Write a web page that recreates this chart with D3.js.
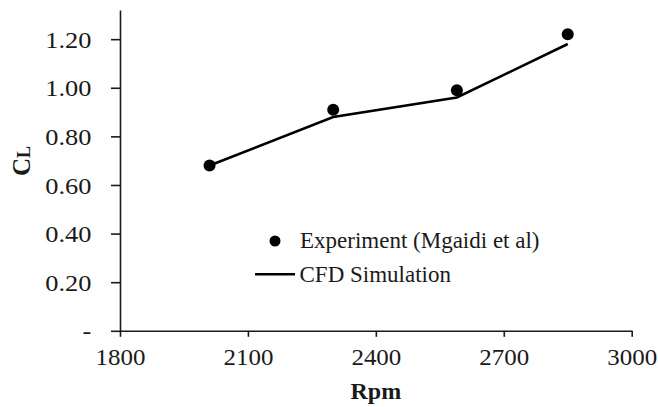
<!DOCTYPE html>
<html>
<head>
<meta charset="utf-8">
<script src="https://cdn.jsdelivr.net/npm/d3@7"></script>
<style>
  html, body { margin: 0; padding: 0; background: #fff; }
  svg { display: block; font-family: "Liberation Serif", "Times New Roman", serif; }
</style>
</head>
<body>
<svg id="chart" width="658" height="407"></svg>
<script>
const rpm = [2010, 2300, 2590, 2850];
const experiment = [0.68, 0.91, 0.99, 1.22];
const cfd = [0.68, 0.88, 0.96, 1.18];
const xTicks = [1800, 2100, 2400, 2700, 3000];
const yTicks = [0, 0.2, 0.4, 0.6, 0.8, 1.0, 1.2];
const legendLabels = ['Experiment (Mgaidi et al)', 'CFD Simulation'];

const svg = d3.select('#chart');
const ink = '#1a1a1a';

const x = d3.scaleLinear().domain([1800, 3000]).range([120, 631.7]);
const y = d3.scaleLinear().domain([0, 1.32]).range([330.8, 10]);

// axes
const xAxis = svg
  .append('g')
  .attr('transform', `translate(0, ${y(0)})`)
  .call(d3.axisBottom(x).tickValues(xTicks).tickSize(6).tickSizeOuter(0).tickPadding(11).tickFormat(d3.format('d')));
const yAxis = svg
  .append('g')
  .attr('transform', `translate(${x(1800)}, 0)`)
  .call(
    d3
      .axisLeft(y)
      .tickValues(yTicks)
      .tickSize(9)
      .tickSizeOuter(0)
      .tickPadding(17)
      .tickFormat((v) => (v === 0 ? '-' : d3.format('.2f')(v)))
  );

[xAxis, yAxis].forEach((g) => {
  g.selectAll('path, line').attr('stroke', ink).attr('stroke-width', 1.6);
  g.selectAll('text').attr('fill', ink).attr('font-size', 24).attr('font-family', '"Liberation Serif", serif');
});
xAxis.selectAll('text').attr('transform', 'scale(1.04,1)');
yAxis.selectAll('text').attr('dy', '0.34em').attr('transform', 'scale(1.1,1)');

// axis titles
svg
  .append('text')
  .attr('x', (x(1800) + x(3000)) / 2)
  .attr('y', 399)
  .attr('text-anchor', 'middle')
  .attr('font-size', 24)
  .attr('font-weight', 'bold')
  .attr('fill', ink)
  .text('Rpm');

const yTitle = svg
  .append('text')
  .attr('transform', 'translate(30, 161) rotate(-90)')
  .attr('text-anchor', 'middle')
  .attr('font-weight', 'bold')
  .attr('fill', ink);
yTitle.append('tspan').attr('font-size', 25).text('C');
yTitle.append('tspan').attr('font-size', 18).text('L');

// CFD line
const line = d3
  .line()
  .x((d) => x(d[0]))
  .y((d) => y(d[1]));
svg
  .append('path')
  .datum(d3.zip(rpm, cfd))
  .attr('d', line)
  .attr('fill', 'none')
  .attr('stroke', '#000')
  .attr('stroke-width', 2.6);

// experiment points
svg
  .append('g')
  .selectAll('circle')
  .data(d3.zip(rpm, experiment))
  .join('circle')
  .attr('cx', (d) => x(d[0]))
  .attr('cy', (d) => y(d[1]))
  .attr('r', 6)
  .attr('fill', '#000');

// legend
const legend = svg.append('g');
legend.append('circle').attr('cx', 275).attr('cy', 241).attr('r', 5.5).attr('fill', '#000');
legend
  .append('line')
  .attr('x1', 255)
  .attr('x2', 295)
  .attr('y1', 274.3)
  .attr('y2', 274.3)
  .attr('stroke', '#000')
  .attr('stroke-width', 2.6);
legend
  .selectAll('text')
  .data(legendLabels)
  .join('text')
  .attr('x', (d, i) => (i === 0 ? 300 : 299.5))
  .attr('y', (d, i) => (i === 0 ? 248 : 282))
  .attr('font-size', 23)
  .attr('fill', ink)
  .text((d) => d);
</script>
</body>
</html>
